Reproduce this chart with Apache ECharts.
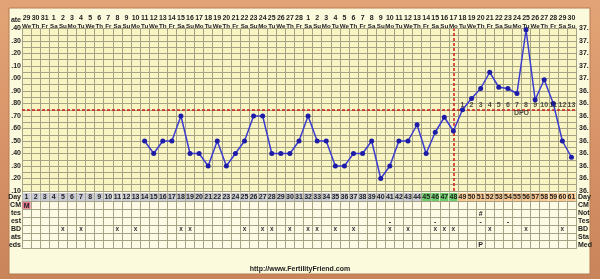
<!DOCTYPE html>
<html><head><meta charset="utf-8">
<script src="https://cdn.jsdelivr.net/npm/echarts@6/dist/echarts.min.js"></script>
<style>html,body{margin:0;padding:0;background:#d48c5c}#c{width:600px;height:279px}</style>
</head><body><div id="c"></div>
<script>
// ---- data ----
const days = [1,2,3,4,5,6,7,8,9,10,11,12,13,14,15,16,17,18,19,20,21,22,23,24,25,26,27,28,29,30,31,32,33,34,35,36,37,38,39,40,41,42,43,44,45,46,47,48,49,50,51,52,53,54,55,56,57,58,59,60,61];
const dates = [29,30,31,1,2,3,4,5,6,7,8,9,10,11,12,13,14,15,16,17,18,19,20,21,22,23,24,25,26,27,28,1,2,3,4,5,6,7,8,9,10,11,12,13,14,15,16,17,18,19,20,21,22,23,24,25,26,27,28,29,30];
const weekdays = ['We','Th','Fr','Sa','Su','Mo','Tu','We','Th','Fr','Sa','Su','Mo','Tu','We','Th','Fr','Sa','Su','Mo','Tu','We','Th','Fr','Sa','Su','Mo','Tu','We','Th','Fr','Sa','Su','Mo','Tu','We','Th','Fr','Sa','Su','Mo','Tu','We','Th','Fr','Sa','Su','Mo','Tu','We','Th','Fr','Sa','Su','Mo','Tu','We','Th','Fr','Sa','Su'];
const temps = [null,null,null,null,null,null,null,null,null,null,null,null,null,
  36.50,36.40,36.50,36.50,36.70,36.40,36.40,36.30,36.50,36.30,36.40,36.50,36.70,36.70,36.40,36.40,36.40,
  36.50,36.70,36.50,36.50,36.30,36.30,36.40,36.40,36.50,36.20,36.30,36.50,36.50,36.63,36.40,36.57,36.69,
  36.58,36.75,36.84,36.92,37.05,36.93,36.92,36.88,37.39,36.83,36.99,36.80,36.50,36.37];
const coverline = 36.75;
const ovulationDay = 48;
const dpoDays = [49,50,51,52,53,54,55,56,57,58,59,60,61];
const dpoLabels = ['1','2','3','4','5','6','7','8','9','10','11','12','13'];
const leftTicks = ['.10','.20','.30','.40','.50','.60','.70','.80','.90','.00','.10','.20','.30','.40'];
const rightTicks = ['36.','36.','36.','36.','36.','36.','36.','36.','36.','37.','37.','37.','37.','37.'];
const fertileDays = [45,46,47,48];
const lutealDays = [49,50,51,52,53,54,55,56,57,58,59,60,61];
const rowsLeft = ['CM','tes','est','BD','ats','eds'];
const rowsRight = ['CM','Not','Tes','BD','Sta','Med'];
const cmDays = [1], cmMarks = ['M'];
const noteDays = [51], noteMarks = ['#'];
const testDays = [41,46,51,54];
const bdDays = [5,7,11,13,18,19,25,27,28,30,32,33,35,37,41,43,46,47,48,52,56,60];
const medDays = [51], medMarks = ['P'];

// ---- style ----
const FONT = 'Liberation Sans';
const GRID_C = '#a6a286';
const TXT = '#222';
const L = 22, W = 554;

const dayColor = d => fertileDays.includes(d) ? '#6ccf6c' : (lutealDays.includes(d) ? '#fcc890' : '#c9cbd6');

const dayCells = days.map(d => [d - 1, 0]);
const marks = [];
cmDays.forEach((d, i) => marks.push([d - 1, 0, cmMarks[i], '#e87a96']));
noteDays.forEach((d, i) => marks.push([d - 1, 1, noteMarks[i], null]));
testDays.forEach(d => marks.push([d - 1, 2, '-', null]));
bdDays.forEach(d => marks.push([d - 1, 3, 'x', null]));
medDays.forEach((d, i) => marks.push([d - 1, 5, medMarks[i], null]));

function cellRect(api, x, y) {
  const p = api.coord([x, y]);
  const s = api.size([1, 1]);
  return { x: p[0] - s[0] / 2 + 0.5, y: p[1] - s[1] / 2 + 0.5, width: s[0] - 1, height: s[1] - 1, cx: p[0], cy: p[1] };
}

const chart = echarts.init(document.getElementById('c'), null, { renderer: 'canvas' });
const lbl = { fontFamily: FONT, fontSize: 7, fontWeight: 'bold', color: TXT };

chart.setOption({
  animation: false,
  graphic: [
    { type: 'rect', z: -100, shape: { x: 0, y: 0, width: 600, height: 279 },
      style: { fill: new echarts.graphic.LinearGradient(0, 0, 0, 1, [{ offset: 0, color: '#e2a476' }, { offset: 0.5, color: '#d89468' }, { offset: 1, color: '#c9845a' }]) } },
    { type: 'rect', z: -99, shape: { x: 9, y: 8, width: 581, height: 266 },
      style: { fill: '#fcfadc', stroke: '#b87a50', lineWidth: 1 } },
    { type: 'text', z: 100, style: { text: 'ate', x: 21, y: 20, align: 'right', verticalAlign: 'middle', font: 'bold 7px ' + FONT, fill: TXT } },
    { type: 'text', z: 100, style: { text: 'http://www.FertilityFriend.com', x: 300, y: 269, align: 'center', verticalAlign: 'middle', font: 'bold 7px ' + FONT, fill: TXT } }
  ],
  grid: [
    { left: L, width: W, top: 28.5, height: 162.5, show: true, backgroundColor: '#f9f5c2', borderWidth: 0 },
    { left: L, width: W, top: 192.5, height: 9, show: true, backgroundColor: '#fdfbe6', borderWidth: 0 },
    { left: L, width: W, top: 201.5, height: 47, show: true, backgroundColor: '#fdfbe6', borderWidth: 0 }
  ],
  xAxis: [
    { gridIndex: 0, type: 'category', data: days.map(String), position: 'top',
      axisTick: { show: false }, axisLine: { show: true, lineStyle: { color: GRID_C } },
      axisLabel: Object.assign({ interval: 0, margin: -2, formatter: (v, i) => '{d|' + dates[i] + '}\n{w|' + weekdays[i] + '}',
        rich: { d: { fontFamily: FONT, fontSize: 7, fontWeight: 'bold', color: TXT, lineHeight: 8 },
                w: { fontFamily: FONT, fontSize: 6.2, fontWeight: 'bold', color: TXT, lineHeight: 8 } } }, lbl),
      splitLine: { show: true, interval: 0, lineStyle: { color: GRID_C, width: 1 } } },
    { gridIndex: 1, type: 'category', data: days.map(String),
      axisTick: { show: false }, axisLabel: { show: false }, axisLine: { show: true, lineStyle: { color: GRID_C } },
      splitLine: { show: true, interval: 0, lineStyle: { color: GRID_C } } },
    { gridIndex: 2, type: 'category', data: days.map(String),
      axisTick: { show: false }, axisLabel: { show: false }, axisLine: { show: true, lineStyle: { color: GRID_C } },
      splitLine: { show: true, interval: 0, lineStyle: { color: GRID_C } } }
  ],
  yAxis: [
    { gridIndex: 0, type: 'value', min: 36.1, max: 37.4, interval: 0.1,
      axisLine: { show: true, lineStyle: { color: GRID_C } }, axisTick: { show: false },
      axisLabel: Object.assign({ margin: 1, formatter: v => leftTicks[Math.round((v - 36.1) * 10)] }, lbl),
      splitLine: { show: true, lineStyle: { color: GRID_C } },
      minorTick: { show: false, splitNumber: 2 }, minorSplitLine: { show: true, lineStyle: { color: GRID_C } } },
    { gridIndex: 0, type: 'value', position: 'right', min: 36.1, max: 37.4, interval: 0.1,
      axisLine: { show: true, lineStyle: { color: GRID_C } }, axisTick: { show: false },
      axisLabel: Object.assign({ margin: 3, formatter: v => rightTicks[Math.round((v - 36.1) * 10)] }, lbl),
      splitLine: { show: false } },
    { gridIndex: 1, type: 'category', data: ['Day'], axisTick: { show: false },
      axisLine: { show: true, lineStyle: { color: GRID_C } }, axisLabel: Object.assign({ margin: 1 }, lbl) },
    { gridIndex: 1, type: 'category', data: ['Day'], position: 'right', axisTick: { show: false },
      axisLine: { show: true, lineStyle: { color: GRID_C } }, axisLabel: Object.assign({ margin: 2 }, lbl) },
    { gridIndex: 2, type: 'category', data: rowsLeft, inverse: true, axisTick: { show: false },
      axisLine: { show: true, lineStyle: { color: GRID_C } }, axisLabel: Object.assign({ margin: 1, interval: 0 }, lbl),
      splitLine: { show: true, interval: 0, lineStyle: { color: GRID_C } } },
    { gridIndex: 2, type: 'category', data: rowsRight, inverse: true, position: 'right', axisTick: { show: false },
      axisLine: { show: true, lineStyle: { color: GRID_C } }, axisLabel: Object.assign({ margin: 2, interval: 0 }, lbl) }
  ],
  series: [
    { type: 'line', xAxisIndex: 0, yAxisIndex: 0, data: temps, connectNulls: false,
      symbol: 'circle', symbolSize: 5, z: 5,
      lineStyle: { color: '#3c3cd0', width: 1.5 }, itemStyle: { color: '#1c1ca8' },
      markLine: { silent: true, symbol: 'none', label: { show: false },
        lineStyle: { color: '#cc1a1a', type: [3, 2], width: 1.5 },
        data: [{ yAxis: coverline }, { xAxis: ovulationDay - 1 }] } },
    { type: 'scatter', xAxisIndex: 0, yAxisIndex: 0, symbolSize: 0, silent: true, z: 6,
      data: dpoDays.map(d => [d - 1, coverline]),
      label: Object.assign({ show: true, position: 'top', distance: 1, formatter: p => dpoLabels[p.dataIndex] }, lbl) },
    { type: 'scatter', xAxisIndex: 0, yAxisIndex: 0, symbolSize: 0, silent: true, z: 6,
      data: [[54, coverline]],
      label: Object.assign({ show: true, position: 'bottom', distance: 0, offset: [4.5, 0], formatter: 'DPO' }, lbl) },
    { type: 'custom', xAxisIndex: 1, yAxisIndex: 2, data: dayCells, silent: true,
      renderItem: (params, api) => {
        const r = cellRect(api, api.value(0), api.value(1));
        const d = days[params.dataIndex];
        return { type: 'group', children: [
          { type: 'rect', shape: { x: r.x, y: r.y, width: r.width, height: r.height }, style: { fill: dayColor(d) } },
          { type: 'text', style: { text: String(d), x: r.cx, y: r.cy + 0.5, align: 'center', verticalAlign: 'middle', font: 'bold 7px ' + FONT, fill: TXT } }
        ] };
      } },
    { type: 'custom', xAxisIndex: 2, yAxisIndex: 4, data: marks.map(m => [m[0], m[1]]), silent: true,
      renderItem: (params, api) => {
        const m = marks[params.dataIndex];
        const r = cellRect(api, api.value(0), api.value(1));
        const ch = [];
        if (m[3]) ch.push({ type: 'rect', shape: { x: r.x, y: r.y, width: r.width, height: r.height }, style: { fill: m[3] } });
        const isX = m[2] === 'x';
        ch.push({ type: 'text', style: { text: m[2], x: r.cx, y: r.cy + 0.5, align: 'center', verticalAlign: 'middle',
          font: (isX ? 'bold 6.5px ' : 'bold 7px ') + FONT, fill: isX ? '#333' : TXT } });
        return { type: 'group', children: ch };
      } }
  ]
});
</script></body></html>
